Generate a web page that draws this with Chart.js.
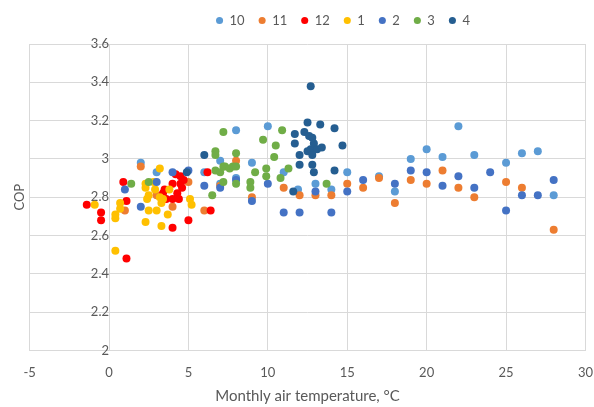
<!DOCTYPE html>
<html>
<head>
<meta charset="utf-8">
<script src="https://cdn.jsdelivr.net/npm/chart.js@4/dist/chart.umd.min.js"></script>
<style>
  html, body { margin: 0; padding: 0; background: #ffffff; }
  #wrap { width: 594px; height: 407px; position: relative; }
</style>
</head>
<body>
<div id="wrap"><canvas id="c" width="594" height="407"></canvas></div>
<script>
// Series labels (months) and colours
const seriesNames = ['10', '11', '12', '1', '2', '3', '4'];
const seriesColors = ['#5B9BD5', '#ED7D31', '#FF0000', '#FFC000', '#4472C4', '#70AD47', '#255E91'];

// [monthly air temperature °C, COP]
const m10 = [[2.0,2.98],[3.0,2.93],[6.0,2.93],[7.0,2.99],[7.0,2.87],[8.0,3.15],[8.0,2.90],[9.0,2.98],[10.0,3.17],[11.0,2.93],[11.9,2.84],[13.0,2.87],[14.0,2.84],[15.0,2.93],[17.0,2.91],[18.0,2.83],[19.0,3.00],[20.0,3.05],[21.0,3.01],[22.0,3.17],[23.0,3.02],[25.0,2.98],[26.0,3.03],[27.0,3.04],[28.0,2.81]];
const m11 = [[1.0,2.73],[2.0,2.96],[3.0,2.81],[4.0,2.75],[5.0,2.88],[6.0,2.73],[7.0,2.86],[8.0,2.99],[9.0,2.80],[11.0,2.85],[12.0,2.81],[13.0,2.81],[14.0,2.81],[15.0,2.87],[16.0,2.85],[17.0,2.90],[18.0,2.77],[19.0,2.89],[20.0,2.87],[21.0,2.94],[22.0,2.85],[23.0,2.80],[25.0,2.88],[26.0,2.85],[28.0,2.63]];
const m12 = [[-1.4,2.76],[-0.5,2.72],[-0.5,2.68],[0.9,2.88],[1.1,2.78],[1.1,2.48],[3.4,2.82],[3.5,2.84],[3.6,2.79],[4.0,2.87],[4.0,2.79],[4.0,2.64],[4.2,2.92],[4.3,2.82],[4.4,2.79],[4.5,2.87],[4.5,2.91],[4.6,2.85],[4.7,2.89],[5.0,2.68],[6.2,2.93],[6.4,2.73]];
const m1 = [[-0.9,2.76],[0.4,2.71],[0.4,2.69],[0.4,2.52],[0.7,2.74],[0.7,2.77],[2.3,2.87],[2.3,2.85],[2.3,2.67],[2.4,2.79],[2.5,2.81],[2.5,2.73],[2.8,2.88],[2.9,2.84],[3.0,2.73],[3.2,2.95],[3.2,2.80],[3.3,2.77],[3.3,2.65],[3.4,2.79],[3.7,2.71],[3.8,2.84],[5.1,2.79],[5.2,2.76]];
const m2 = [[1.0,2.84],[2.0,2.75],[3.0,2.88],[4.0,2.93],[5.0,2.94],[6.0,2.86],[7.0,2.85],[8.0,2.89],[9.0,2.78],[10.0,2.87],[11.0,2.72],[12.0,2.72],[13.0,2.83],[14.0,2.72],[15.0,2.83],[16.0,2.89],[18.0,2.87],[19.0,2.94],[20.0,2.93],[21.0,2.86],[22.0,2.91],[23.0,2.85],[24.0,2.93],[25.0,2.73],[26.0,2.81],[27.0,2.81],[28.0,2.89]];
const m3 = [[1.4,2.87],[2.5,2.88],[6.5,2.81],[6.7,3.04],[6.7,3.02],[6.7,2.94],[7.0,2.93],[7.2,3.14],[7.2,2.96],[7.2,2.88],[7.3,2.96],[7.6,2.95],[7.8,2.96],[8.0,3.03],[8.0,2.96],[8.0,2.87],[8.9,2.88],[8.9,2.85],[9.2,2.93],[9.7,3.10],[9.9,2.95],[9.9,2.91],[10.4,3.01],[10.5,3.07],[10.8,2.90],[10.9,3.15],[11.3,2.95],[13.7,2.87]];
const m4 = [[4.9,2.93],[6.0,3.02],[11.6,2.83],[11.7,3.13],[11.7,3.08],[12.0,3.02],[12.0,2.97],[12.3,3.14],[12.5,3.19],[12.5,3.04],[12.6,3.12],[12.7,3.38],[12.7,3.05],[12.8,3.11],[12.8,3.02],[12.8,2.97],[12.9,3.08],[12.9,2.93],[13.1,3.05],[13.3,3.18],[13.4,3.06],[14.2,3.16],[14.2,2.94],[14.7,3.07]];
const seriesData = [m10, m11, m12, m1, m2, m3, m4];

// Axis settings
const xMin = -5, xMax = 30, xStep = 5;
const yMin = 2, yMax = 3.6, yStep = 0.2;
const xTitle = 'Monthly air temperature, °C';
const yTitle = 'COP';

const FONT = 'Lato, "Open Sans", sans-serif';
const TXT = '#595959';
const GRID = '#d9d9d9';

const datasets = seriesNames.map((name, i) => ({
  label: name,
  data: seriesData[i].map(p => ({ x: p[0], y: p[1] })),
  backgroundColor: seriesColors[i],
  borderColor: seriesColors[i],
  pointRadius: 4,
  pointHoverRadius: 4,
  borderWidth: 0,
  order: seriesNames.length - i
}));

const legendShift = {
  id: 'legendShift',
  afterLayout(chart) {
    const lg = chart.legend;
    if (lg) { lg.left += 46; lg.right += 46; lg.top -= 7; lg.bottom -= 7; }
  }
};

new Chart(document.getElementById('c'), {
  type: 'scatter',
  data: { datasets },
  plugins: [legendShift],
  options: {
    responsive: false,
    animation: false,
    layout: { padding: { top: 7, right: 0, bottom: 0, left: 0 } },
    plugins: {
      legend: {
        position: 'top',
        align: 'center',
        labels: {
          usePointStyle: true,
          pointStyle: 'circle',
          boxWidth: 7,
          boxHeight: 5,
          padding: 14,
          color: TXT,
          font: { family: FONT, size: 13 },
          sort: (a, b) => a.datasetIndex - b.datasetIndex
        }
      },
      tooltip: { enabled: false }
    },
    scales: {
      x: {
        type: 'linear',
        min: xMin, max: xMax,
        ticks: { stepSize: xStep, color: TXT, font: { family: FONT, size: 13 }, padding: 1 },
        grid: { color: GRID, drawTicks: true, tickLength: 14, tickColor: 'rgba(0,0,0,0)' },
        border: { color: GRID },
        title: { display: true, text: xTitle, color: TXT, font: { family: FONT, size: 15 }, padding: { top: 5, bottom: 2 } }
      },
      y: {
        type: 'linear',
        position: 'left',
        min: yMin, max: yMax,
        ticks: { display: false, stepSize: yStep },
        grid: { color: GRID, drawTicks: false },
        border: { color: GRID },
        title: { display: true, text: yTitle, color: TXT, font: { family: FONT, size: 13 }, padding: { top: 12, bottom: 2 } }
      },
      y2: {
        type: 'linear',
        position: { x: 0 },
        min: yMin, max: yMax,
        afterFit: s => { s.width = 0; },
        ticks: {
          stepSize: yStep, color: TXT, font: { family: FONT, size: 13 }, padding: 16,
          callback: v => String(Number(v.toFixed(1)))
        },
        grid: { display: false, drawTicks: false },
        border: { display: false }
      }
    }
  }
});
</script>
</body>
</html>
